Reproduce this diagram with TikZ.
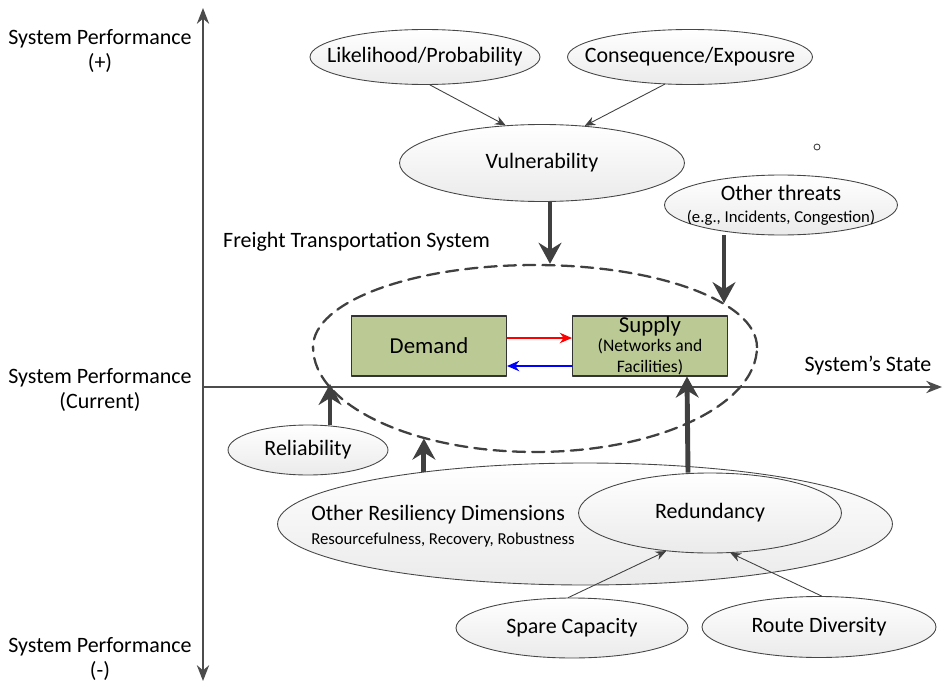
\documentclass[tikz,border=0pt]{standalone}
\usepackage{fontspec}
\setmainfont{Carlito}
\usepackage{tikz}
\usetikzlibrary{arrows.meta}
\usetikzlibrary{shapes.geometric}
\definecolor{boxgreen}{RGB}{187,202,148}
\definecolor{darkarrow}{RGB}{64,64,64}
\begin{document}
\begin{tikzpicture}[x=0.02cm,y=-0.02cm,line cap=round,line join=round,
    font=\fontsize{12.5}{14.5}\selectfont,
    oval/.style={ellipse,draw=gray!55!black,line width=0.5pt,top color=white,bottom color=gray!16,inner sep=0pt},
    greenbox/.style={rectangle,draw=gray!40!black,line width=0.6pt,fill=boxgreen,minimum width=3.1cm,minimum height=1.2cm,inner sep=0pt},
    dashedoval/.style={ellipse,draw=darkarrow,line width=1.3pt,dash pattern=on 7pt off 4pt,minimum width=8.88cm,inner sep=0pt},
    bigarrow/.style={line width=2.8pt,draw=darkarrow,line cap=butt,-{Stealth[length=12pt,width=13pt,inset=4pt]}},
    thinarrow/.style={line width=0.5pt,draw=gray!50!black,-{Stealth[length=6pt,width=5pt]}},
    axis/.style={line width=0.8pt,draw=gray!60!black,-{Stealth[length=9pt,width=7pt]}}]
      \useasboundingbox (0,0) rectangle (943,686);
      % axes
      \coordinate (origin) at (203,387);
      \coordinate (top) at (203,8);
      \coordinate (bottom) at (203,681);
      \coordinate (right) at (942,387);
      \draw [axis] (origin) -- (top);
      \draw [axis] (origin) -- (bottom);
      \draw [axis] (origin) -- (right);
      \node (perfplus) [align=center] at (100,51) {System Performance\\(+)};
      \node (perfcur) [align=center] at (100,390) {System Performance\\(Current)};
      \node (perfminus) [align=center] at (100,659) {System Performance\\(-)};
      \node (state) at (868,366) {System’s State};
      % threats
      \node (lik) [oval,minimum width=4.6cm,minimum height=1.1cm,label=center:Likelihood/Probability] at (425,57) {};
      \node (cons) [oval,minimum width=4.9cm,minimum height=1.1cm,label=center:Consequence/Expousre] at (690,57) {};
      \node (vul) [oval,minimum width=5.7cm,minimum height=1.54cm] at (542,163) {Vulnerability};
      \node (thr) [oval,minimum width=4.66cm,minimum height=1.2cm,label={[align=center]center:Other threats\\[-2pt]\fontsize{9.5}{11}\selectfont (e.g., Incidents, Congestion)}] at (781,205) {};
      \node (dot) [circle,draw=gray!50!black,line width=0.5pt,fill=white,minimum size=0.12cm,inner sep=0pt] at (817,147) {};
      \draw [thinarrow] (lik.-80) -- (vul.134);
      \draw [thinarrow] (cons.-133) -- (vul.41);
      % system
      \begin{scope}
        \clip (0,0) rectangle (943,347);
        \node (ftstop) [dashedoval,minimum height=3.28cm] at (535,347) {};
      \end{scope}
      \begin{scope}
        \clip (0,347) rectangle (943,686);
        \node (ftsbot) [dashedoval,minimum height=4.2cm] at (535,347) {};
      \end{scope}
      \node (ftslabel) [anchor=west] at (217,242) {Freight Transportation System};
      \node (dem) [greenbox] at (429,346) {\fontsize{13}{15}\selectfont Demand};
      \node (sup) [greenbox,align=center,font=\fontsize{10}{12}\selectfont] at (650,346) {\fontsize{13}{15}\selectfont Supply\\[-1pt]\fontsize{10}{12}\selectfont (Networks and\\Facilities)};
      \draw [line width=0.6pt,red,-{Stealth[length=7pt,width=6pt]}] ([yshift=0.16cm]dem.east) -- ([yshift=0.16cm]sup.west);
      \draw [line width=0.6pt,blue,-{Stealth[length=7pt,width=6pt]}] ([yshift=-0.4cm]sup.west) -- ([yshift=-0.4cm]dem.east);
      \draw [bigarrow] ([xshift=0.16cm]vul.south) -- ([xshift=0.16cm]vul.south |- ftstop.north);
      \draw [bigarrow] ([xshift=-1.14cm]thr.south) -- ([xshift=-1.14cm]thr.south |- ftstop.13);
      % resiliency
      \node (rel) [oval,minimum width=3.2cm,minimum height=1.0cm] at (308,450) {Reliability};
      \node (res) [oval,minimum width=12.3cm,minimum height=2.44cm] at (585,524) {};
      \node (reslabel) [align=left] at (443,526) {Other Resiliency Dimensions\\[-1pt]\fontsize{9.5}{11}\selectfont Resourcefulness, Recovery, Robustness};
      \node (red) [oval,minimum width=5.26cm,minimum height=1.6cm] at (710,513) {Redundancy};
      \node (spare) [oval,minimum width=4.64cm,minimum height=1.2cm] at (572,628) {Spare Capacity};
      \node (route) [oval,minimum width=4.68cm,minimum height=1.22cm] at (819,627) {Route Diversity};
      \draw [thinarrow] (spare.97) -- (red.-139);
      \draw [thinarrow] (route.85) -- (red.-63);
      \draw [bigarrow] ([xshift=0.44cm]rel.north) -- ([xshift=0.44cm]rel.north |- ftsbot.190);
      \draw [bigarrow] (res.162) -- (res.162 |- ftsbot.219);
      \draw [bigarrow] ([xshift=-0.44cm]red.north) -- ([xshift=0.74cm]sup.south);
\end{tikzpicture}
\end{document}
